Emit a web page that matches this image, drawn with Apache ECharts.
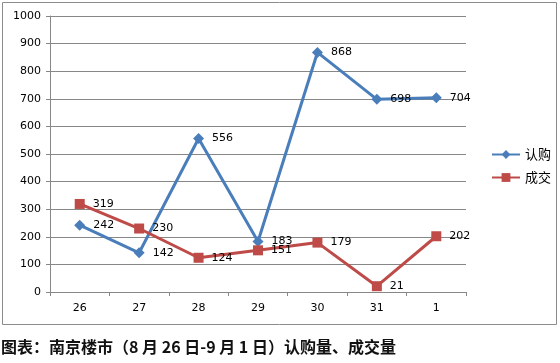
<!DOCTYPE html>
<html><head><meta charset="utf-8">
<script src="https://cdn.jsdelivr.net/npm/echarts@6/dist/echarts.min.js"></script>
<style>html,body{margin:0;padding:0;background:#fff}#c{width:560px;height:363px}</style>
</head><body><div id="c"></div>
<script>
const categories = ['26','27','28','29','30','31','1'];
const subscribe = [242,142,556,183,868,698,704];
const deals = [319,230,124,151,179,21,202];
const seriesNames = ['认购','成交'];
const captionText = '图表：南京楼市（8 月 26 日-9 月 1 日）认购量、成交量';

const chart = echarts.init(document.getElementById('c'), null, {renderer:'canvas'});
const font = 'DejaVu Sans, Verdana, sans-serif';
const lbl = {show:true, position:'right', distance:8, color:'#000', fontSize:11, fontFamily:font};
chart.setOption({
  animation:false,
  backgroundColor:'#fff',
  graphic:[
    {type:'rect', shape:{x:2.5,y:2.5,width:554,height:322}, style:{fill:'none', stroke:'#8c8c8c', lineWidth:1}, z:-1},
    {type:'text', left:1, top:339, style:{text:captionText, font:'bold 16px "Noto Sans CJK SC", sans-serif', fill:'#111'}}
  ],
  grid:{left:50, right:94, top:16, bottom:71},
  legend:{orient:'vertical', left:486, top:143, itemWidth:28, itemHeight:11, itemGap:10,
    textStyle:{fontSize:13, fontFamily:'"Noto Sans CJK SC", sans-serif', color:'#000'},
    data:seriesNames},
  xAxis:{type:'category', data:categories, boundaryGap:true,
    axisLine:{lineStyle:{color:'#878787'}},
    axisTick:{show:true, length:4, lineStyle:{color:'#878787'}},
    axisLabel:{color:'#000', fontSize:11, fontFamily:font, margin:11}},
  yAxis:{type:'value', min:0, max:1000, interval:100,
    axisLine:{show:true, lineStyle:{color:'#878787'}},
    axisTick:{show:true, length:4, lineStyle:{color:'#878787'}},
    splitLine:{lineStyle:{color:'#878787'}},
    axisLabel:{color:'#000', fontSize:11, fontFamily:font, margin:9, formatter:function(v){return String(v);}}},
  series:[
    {name:seriesNames[0], type:'line', data:subscribe, symbol:'diamond', symbolSize:11,
      lineStyle:{color:'#4A7EBB', width:3}, itemStyle:{color:'#4A7EBB'}, label:lbl, z:3},
    {name:seriesNames[1], type:'line', data:deals, symbol:'rect', symbolSize:10,
      lineStyle:{color:'#BE4B48', width:3}, itemStyle:{color:'#BE4B48'}, label:lbl, z:4}
  ]
});
</script></body></html>
